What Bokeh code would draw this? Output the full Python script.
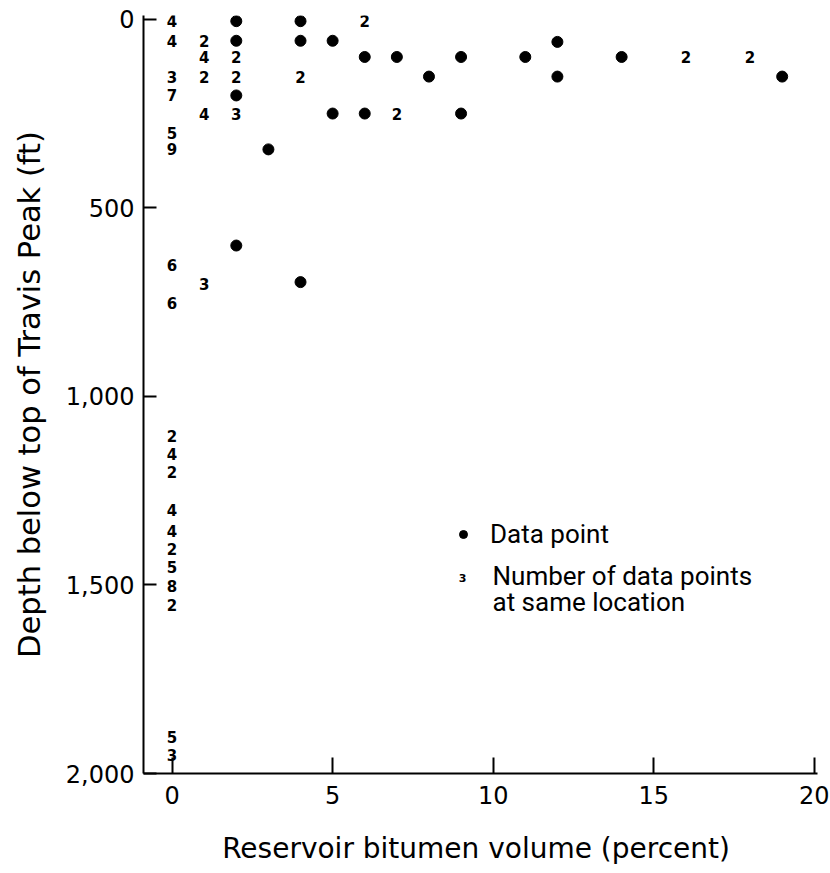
from bokeh.plotting import figure
from bokeh.models import (Range1d, FixedTicker, NumeralTickFormatter, Legend,
                          LegendItem, Label, ColumnDataSource)
from bokeh.core.properties import value
from bokeh.embed import file_html
from bokeh.resources import INLINE

# Single measurements: bitumen volume (percent) and depth below top of Travis Peak (ft)
dot_volume = [2, 4,
              2, 4, 5, 12,
              6, 7, 9, 11, 14,
              8, 12, 19,
              2,
              5, 6, 9,
              3,
              2, 4]
dot_depth = [5, 5,
             57, 57, 57, 60,
             100, 100, 100, 100, 100,
             152, 152, 152,
             202,
             250, 250, 250,
             345,
             600, 697]

# Locations shared by several measurements, with the number of measurements
count_volume = [0, 6,
                0, 1,
                1, 2, 16, 18,
                0, 1, 2, 4,
                0,
                1, 2, 7,
                0, 0,
                0, 1, 0,
                0, 0, 0, 0, 0, 0, 0, 0, 0,
                0, 0]
count_depth = [5, 5,
               57, 57,
               100, 100, 100, 100,
               152, 152, 152, 152,
               202,
               250, 250, 250,
               302, 345,
               652, 702, 752,
               1105, 1153, 1200, 1302, 1356, 1405, 1452, 1504, 1552,
               1902, 1950]
count_n = ["4", "2",
           "4", "2",
           "4", "2", "2", "2",
           "3", "2", "2", "2",
           "7",
           "4", "3", "2",
           "5", "9",
           "6", "3", "6",
           "2", "4", "2", "4", "4", "2", "5", "8", "2",
           "5", "3"]

x_ticks = [0, 5, 10, 15, 20]
y_ticks = [0, 500, 1000, 1500, 2000]

KEY_FONT = "Roboto"
AXIS_FONT = "DejaVu Sans"

p = figure(width=830, height=873, output_backend="svg", toolbar_location=None,
           x_range=Range1d(-0.89, 20.1), y_range=Range1d(2000, -10),
           min_border_left=143, min_border_right=13,
           min_border_top=15, min_border_bottom=100)
p.outline_line_color = None
p.xgrid.visible = False
p.ygrid.visible = False
p.background_fill_color = "white"
p.border_fill_color = "white"

dots = p.scatter(x="x", y="y", size=11, color="black",
                 source=ColumnDataSource(dict(x=dot_volume, y=dot_depth)))
p.text(x="x", y="y", text="n",
       source=ColumnDataSource(dict(x=count_volume, y=count_depth, n=count_n)),
       text_align="center", text_baseline="middle",
       text_font=value(AXIS_FONT), text_font_style="bold",
       text_font_size="15px", text_color="black")

for ax in (p.xaxis[0], p.yaxis[0]):
    ax.axis_line_width = 2
    ax.axis_line_color = "black"
    ax.major_tick_line_width = 2
    ax.major_tick_line_color = "black"
    ax.major_tick_out = 0
    ax.minor_tick_line_color = None
    ax.major_label_text_font = AXIS_FONT
    ax.major_label_text_font_size = "24px"
    ax.major_label_text_color = "black"
    ax.axis_label_text_font = AXIS_FONT
    ax.axis_label_text_font_style = "normal"
    ax.axis_label_text_color = "black"

p.xaxis.ticker = FixedTicker(ticks=x_ticks)
p.xaxis.major_tick_in = 16
p.xaxis.major_label_standoff = 12
p.xaxis.axis_label = "Reservoir bitumen volume  (percent)"
p.xaxis.axis_label_text_font_size = "28px"
p.xaxis.axis_label_standoff = 25

p.yaxis.ticker = FixedTicker(ticks=y_ticks)
p.yaxis.formatter = NumeralTickFormatter(format="0,0")
p.yaxis.major_tick_in = 13
p.yaxis.major_label_standoff = 9
p.yaxis.axis_label = "Depth below top of Travis Peak (ft)"
p.yaxis.axis_label_text_font_size = "30.5px"
p.yaxis.axis_label_standoff = 16

# Key: the dot symbol, then the count symbol explained in two lines
legend = Legend(items=[LegendItem(label="Data point", renderers=[dots])],
                location=(310, 224), padding=0, margin=0, spacing=0,
                glyph_width=20, glyph_height=20, label_standoff=17,
                label_text_font=KEY_FONT, label_text_font_size="26px",
                label_text_color="black",
                border_line_alpha=0, background_fill_alpha=0)
p.add_layout(legend)

p.add_layout(Label(x=319, y=196, x_units="screen", y_units="screen", text="3",
                   text_align="center", text_baseline="middle",
                   text_font=AXIS_FONT, text_font_style="bold",
                   text_font_size="11px", text_color="black"))
p.add_layout(Label(x=349, y=198, x_units="screen", y_units="screen",
                   text="Number of data points",
                   text_align="left", text_baseline="middle",
                   text_font=KEY_FONT, text_font_size="26px",
                   text_color="black"))
p.add_layout(Label(x=349, y=172, x_units="screen", y_units="screen",
                   text="at same location",
                   text_align="left", text_baseline="middle",
                   text_font=KEY_FONT, text_font_size="26px",
                   text_color="black"))

open("out.html", "w").write(file_html(p, INLINE))
